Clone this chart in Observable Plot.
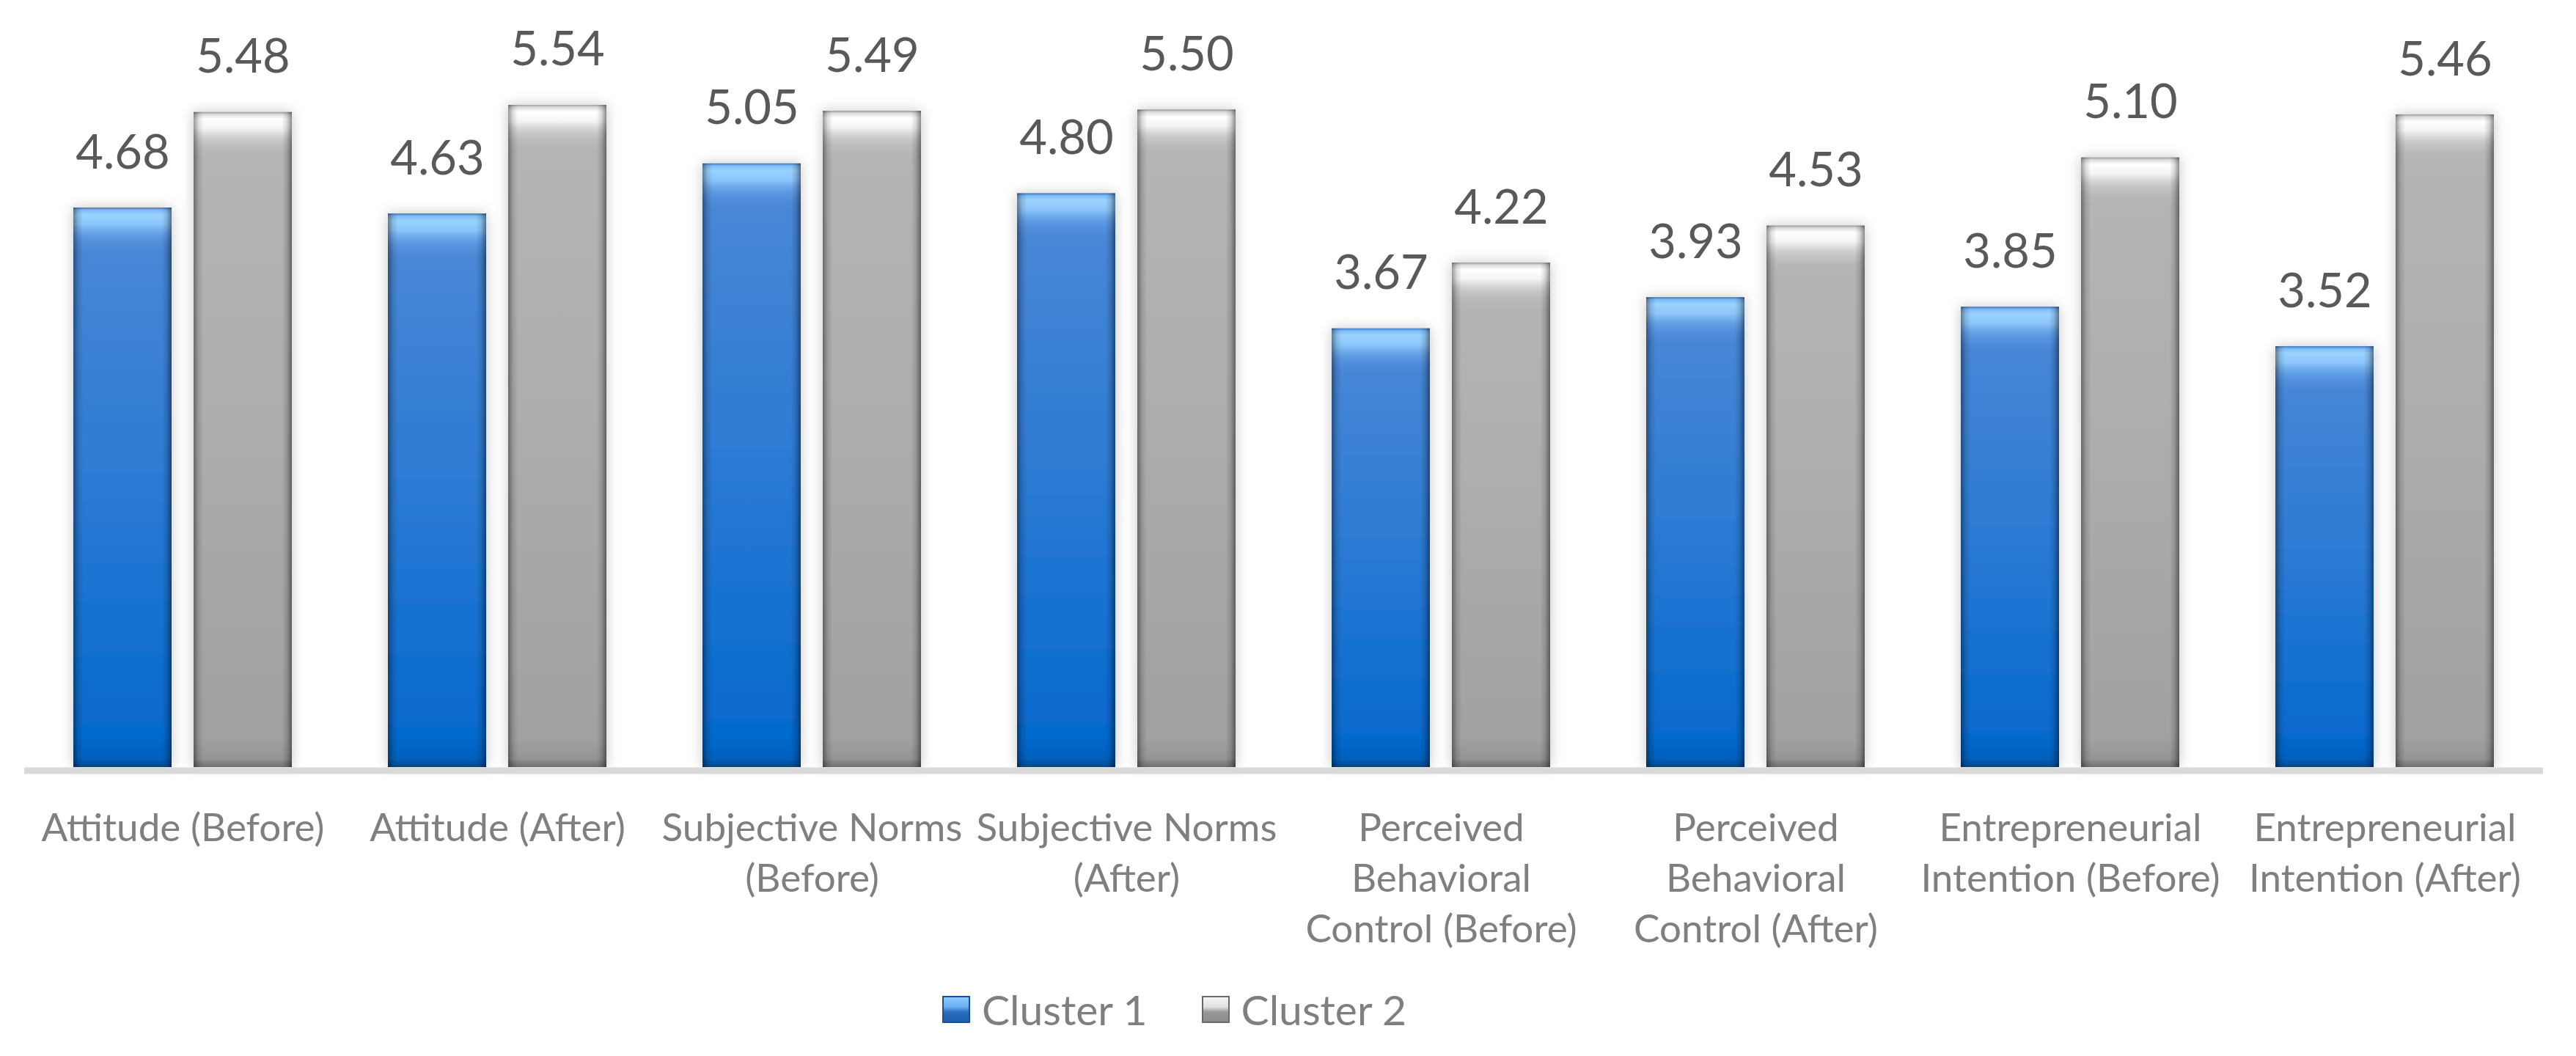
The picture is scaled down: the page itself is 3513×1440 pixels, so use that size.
<!DOCTYPE html>
<html>
<head>
<meta charset="utf-8">
<script src="https://cdn.jsdelivr.net/npm/d3@7"></script>
<script src="https://cdn.jsdelivr.net/npm/@observablehq/plot@0.6"></script>
<style>
  html, body { margin: 0; padding: 0; background: #fff; }
  #chart svg { display: block; }
  #legend { display: flex; justify-content: flex-start; align-items: center; margin-top: 12px; padding-left: 1285px;
            font-family: Lato, "Open Sans", sans-serif; font-size: 57px; color: #7f7f7f; }
  .item { display: flex; align-items: center; margin-right: 74px; }
  .sw { width: 38px; height: 37px; margin-right: 16px; box-sizing: border-box; }
  .sw1 { background: linear-gradient(to bottom, #8cc8ff 0%, #6aaef0 40%, #2a6fc0 60%, #1f5fb0 100%); border: 2px solid #1a4f93; }
  .sw2 { background: linear-gradient(to bottom, #f4f4f4 0%, #e0e0e0 40%, #999 60%, #8c8c8c 100%); border: 2px solid #6a6a6a; }
</style>
</head>
<body>
<div id="chart"></div>
<div id="legend"></div>
<script>
const categories = [
  "Attitude (Before)", "Attitude (After)", "Subjective Norms (Before)", "Subjective Norms (After)",
  "Perceived Behavioral Control (Before)", "Perceived Behavioral Control (After)",
  "Entrepreneurial Intention (Before)", "Entrepreneurial Intention (After)"
];
const tickLabels = [
  "Attitude (Before)", "Attitude (After)", "Subjective Norms\n(Before)", "Subjective Norms\n(After)",
  "Perceived\nBehavioral\nControl (Before)", "Perceived\nBehavioral\nControl (After)",
  "Entrepreneurial\nIntention (Before)", "Entrepreneurial\nIntention (After)"
];
const seriesNames = ["Cluster 1", "Cluster 2"];
const cluster1 = [4.68, 4.63, 5.05, 4.80, 3.67, 3.93, 3.85, 3.52];
const cluster2 = [5.48, 5.54, 5.49, 5.50, 4.22, 4.53, 5.10, 5.46];

const d1 = categories.map((c, i) => ({category: c, value: cluster1[i]}));
const d2 = categories.map((c, i) => ({category: c, value: cluster2[i]}));
const labelOf = new Map(categories.map((c, i) => [c, tickLabels[i]]));

const W = 3513, H = 1330;
const barW = 134, bandW = 298;
const inset = bandW - barW;      // 164
const shift = (bandW - barW) / 2; // 82

function clusterMarks(data, side, grad, cap) {
  const insets = side === 0 ? {insetRight: inset} : {insetLeft: inset};
  return [
    Plot.barY(data, {x: "category", y: "value", fill: grad, ...insets, className: "mainbar"}),
    Plot.rectY(data, {x: "category", y1: "value", y2: "value", insetBottom: -64, fill: cap, ...insets}),
    Plot.rectY(data, {x: "category", y1: 0, y2: 0, insetTop: -40, fill: "url(#bottomShade)", ...insets}),
    Plot.barY(data, {x: "category", y: "value", fill: "url(#sideShade)", ...insets}),
    Plot.text(data, {x: "category", y: "value", text: d => d.value.toFixed(2), dx: side === 0 ? -shift : shift,
      dy: -54, lineAnchor: "bottom", fontSize: 65, fill: "#595959"})
  ];
}

const chart = Plot.plot({
  width: W,
  height: H,
  marginLeft: 33,
  marginRight: 45,
  marginTop: 68,
  marginBottom: H - 1046,
  style: {fontFamily: "Lato, 'Open Sans', sans-serif", background: "#fff"},
  x: {domain: categories, paddingInner: 0.306, paddingOuter: 0.153, axis: null},
  y: {domain: [0, 6], axis: null},
  marks: [
    ...clusterMarks(d1, 0, "url(#blueGrad)", "url(#blueCap)"),
    ...clusterMarks(d2, 1, "url(#greyGrad)", "url(#greyCap)"),
    Plot.ruleY([0], {stroke: "#d9d9d9", strokeWidth: 9, dy: 4.5}),
    Plot.axisX({anchor: "bottom", tickSize: 0, tickPadding: 52, fontSize: 53, lineHeight: 1.3,
      fill: "#7f7f7f", label: null, tickFormat: d => labelOf.get(d)})
  ]
});

const defs = `
<defs>
  <linearGradient id="blueGrad" x1="0" y1="0" x2="0" y2="1">
    <stop offset="0" stop-color="#4d89d6"/>
    <stop offset="0.5" stop-color="#2b7ad4"/>
    <stop offset="1" stop-color="#0067cc"/>
  </linearGradient>
  <linearGradient id="greyGrad" x1="0" y1="0" x2="0" y2="1">
    <stop offset="0" stop-color="#b6b6b6"/>
    <stop offset="0.5" stop-color="#acacac"/>
    <stop offset="1" stop-color="#a0a0a0"/>
  </linearGradient>
  <linearGradient id="sideShade" x1="0" y1="0" x2="1" y2="0">
    <stop offset="0" stop-color="#000" stop-opacity="0.4"/>
    <stop offset="0.05" stop-color="#000" stop-opacity="0.12"/>
    <stop offset="0.1" stop-color="#000" stop-opacity="0"/>
    <stop offset="0.9" stop-color="#000" stop-opacity="0"/>
    <stop offset="0.95" stop-color="#000" stop-opacity="0.14"/>
    <stop offset="1" stop-color="#000" stop-opacity="0.45"/>
  </linearGradient>
  <linearGradient id="blueCap" x1="0" y1="0" x2="0" y2="1">
    <stop offset="0" stop-color="#3a78c4"/>
    <stop offset="0.05" stop-color="#7fbcf6"/>
    <stop offset="0.15" stop-color="#9ad2ff"/>
    <stop offset="0.35" stop-color="#8cc6fa"/>
    <stop offset="0.6" stop-color="#6ca8ec" stop-opacity="0.6"/>
    <stop offset="1" stop-color="#4d89d6" stop-opacity="0"/>
  </linearGradient>
  <linearGradient id="greyCap" x1="0" y1="0" x2="0" y2="1">
    <stop offset="0" stop-color="#9a9a9a"/>
    <stop offset="0.05" stop-color="#dcdcdc"/>
    <stop offset="0.15" stop-color="#ffffff"/>
    <stop offset="0.35" stop-color="#f4f4f4"/>
    <stop offset="0.6" stop-color="#d4d4d4" stop-opacity="0.6"/>
    <stop offset="1" stop-color="#b6b6b6" stop-opacity="0"/>
  </linearGradient>
  <linearGradient id="bottomShade" x1="0" y1="0" x2="0" y2="1">
    <stop offset="0" stop-color="#000" stop-opacity="0"/>
    <stop offset="0.75" stop-color="#000" stop-opacity="0.08"/>
    <stop offset="0.8" stop-color="#000" stop-opacity="0.16"/>
    <stop offset="1" stop-color="#000" stop-opacity="0.3"/>
  </linearGradient>
  <filter id="glow" x="-20%" y="-5%" width="140%" height="110%">
    <feDropShadow dx="0" dy="0" stdDeviation="9" flood-color="#000" flood-opacity="0.22"/>
  </filter>
</defs>`;
chart.insertAdjacentHTML("afterbegin", defs);
d3.select(chart).selectAll("g.mainbar").attr("filter", "url(#glow)");

document.getElementById("chart").appendChild(chart);

const legend = document.getElementById("legend");
seriesNames.forEach((name, i) => {
  const item = document.createElement("div");
  item.className = "item";
  item.innerHTML = `<div class="sw sw${i + 1}"></div><span>${name}</span>`;
  legend.appendChild(item);
});
</script>
</body>
</html>
